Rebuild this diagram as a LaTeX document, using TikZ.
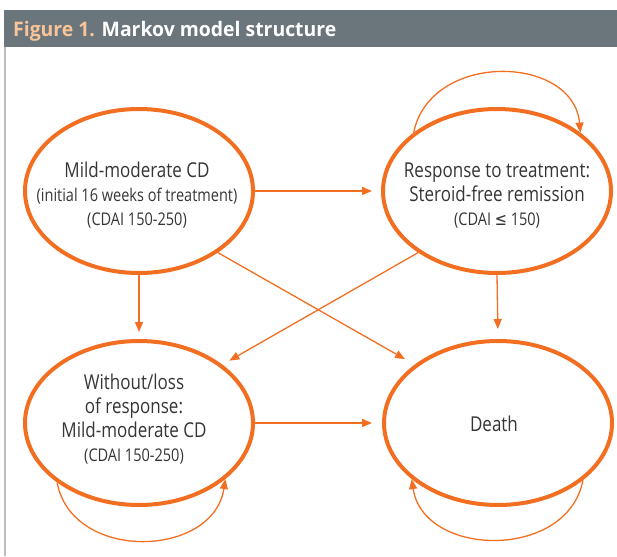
\documentclass[tikz,border=0pt]{standalone}
\usepackage{fontspec}
\setmainfont{Open Sans}[FakeStretch=0.83]
\newfontfamily\titlefont{Open Sans}[FakeStretch=0.97]
\newfontfamily\symfont{DejaVu Sans}[FakeStretch=0.83]
\usetikzlibrary{shapes.geometric,arrows.meta}
\definecolor{orng}{HTML}{F26F21}
\definecolor{barcol}{HTML}{6B767C}
\definecolor{peach}{HTML}{F9C49A}
\definecolor{txt}{HTML}{353535}
\definecolor{framecol}{HTML}{BDBDBD}
\tikzset{
  state/.style={ellipse, draw=orng, line width=4pt, minimum width=228pt, minimum height=164pt, inner sep=0pt},
  arr/.style={draw=orng, line width=1.3pt, -{Triangle[length=10pt,width=8pt]}},
  lbl/.style={align=center, text=txt, inner sep=0pt, font=\fontsize{17.5}{24}\selectfont}
}
\newcommand{\bigtxt}[1]{{\fontsize{20.5}{24}\selectfont #1}}
\begin{document}
\begin{tikzpicture}[x=1pt,y=-1pt]
\useasboundingbox (0,0) rectangle (617,556);
% header
\fill[barcol] (4,10) rectangle (617,47);
\draw[framecol, line width=2pt] (5,47) -- (5,556);
\node[anchor=base west, inner sep=0pt, font=\titlefont\bfseries\fontsize{20}{24}\selectfont] (title) at (13,37)
  {\textcolor{peach}{Figure 1.} \textcolor{white}{Markov model structure}};
% states
\node[state] (A) at (139,191) {};
\node[state] (B) at (497,191) {};
\node[state] (C) at (139,423) {};
\node[state] (D) at (498,423) {};
% texts
\node[lbl, anchor=base] (At) at (137,225)
  {\bigtxt{Mild-moderate CD}\\(initial 16 weeks of treatment)\\(CDAI 150-250)};
\node[lbl, anchor=base] (Bt) at (497,225)
  {\bigtxt{Response to treatment:}\\\bigtxt{Steroid-free remission}\\(CDAI {\symfont ≤} 150)};
\node[lbl, anchor=base] (Ct) at (134,461)
  {\bigtxt{Without/loss}\\\bigtxt{of response:}\\\bigtxt{Mild-moderate CD}\\(CDAI 150-250)};
\node[lbl, anchor=base] (Dt) at (494,431) {\bigtxt{Death}};
% transitions
\draw[arr, shorten >=9pt] (A.east) -- (B.west);
\draw[arr, shorten >=10pt] (C.east) -- (D.west);
\draw[arr, shorten >=7pt] (A.south) -- (C.north);
\draw[arr, shorten >=10pt] (B.south) -- (D.north);
\draw[arr, shorten >=11pt] (A.-38) -- (D.145);
\draw[arr, shorten >=8pt] (B.218) -- (C.35);
% self loops
\draw[arr] (B.145) .. controls +(17,-82) and +(-7,-78) .. (B.35);
\draw[arr] (C.216) .. controls +(15,80) and +(-12,79) .. (C.-33);
\draw[arr] (D.-34) .. controls +(-15,80) and +(12,79) .. (D.213);
\end{tikzpicture}
\end{document}
